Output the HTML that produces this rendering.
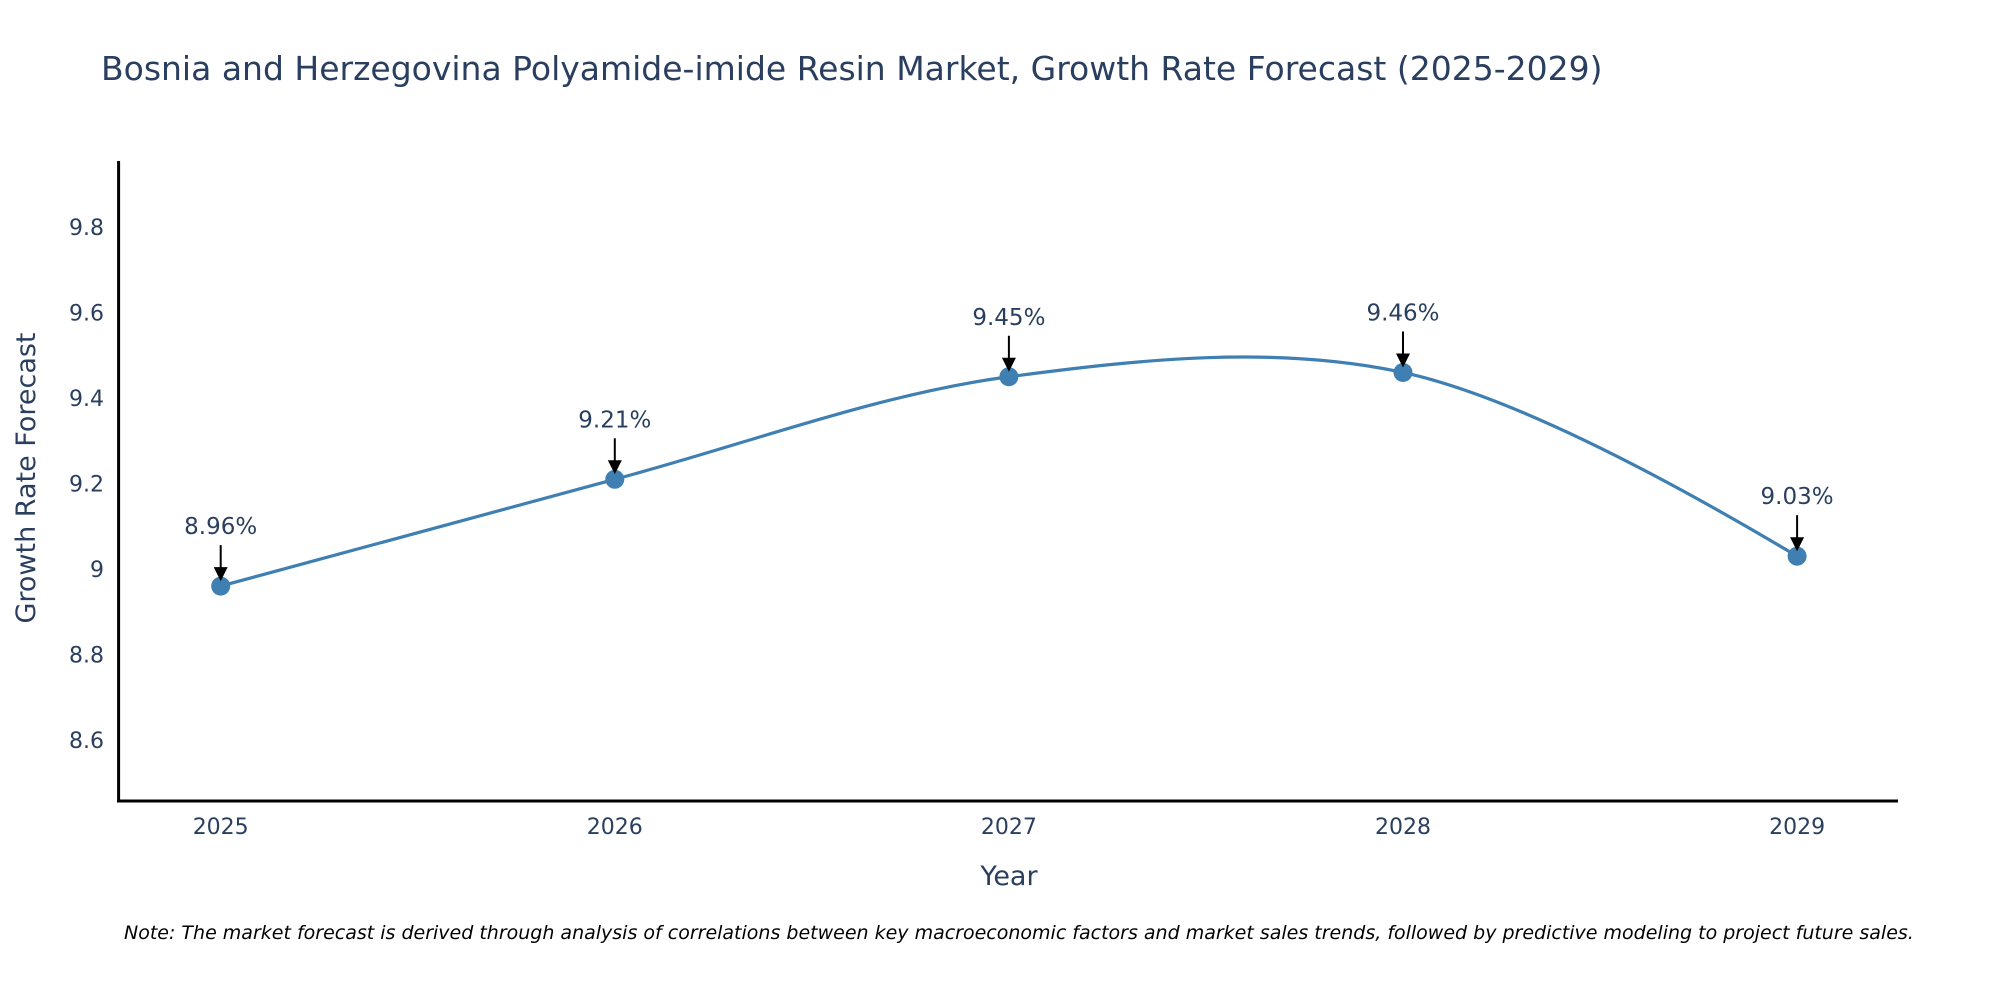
<!DOCTYPE html>
<html><head><meta charset="utf-8"><style>
body{margin:0;background:#fff;width:2000px;height:1000px;overflow:hidden;font-family:"DejaVu Sans","Liberation Sans",sans-serif}
</style></head><body>
<svg id="chart" width="2000" height="1000" xmlns="http://www.w3.org/2000/svg" font-family="DejaVu Sans, Liberation Sans, sans-serif">
<text x="101" y="80" font-size="33" fill="#2a3f5f">Bosnia and Herzegovina Polyamide-imide Resin Market, Growth Rate Forecast (2025-2029)</text>
<g id="yticks"></g>
<g id="xticks"></g>
<line x1="118.6" y1="161" x2="118.6" y2="802" stroke="#000" stroke-width="3"/>
<line x1="117" y1="801" x2="1898" y2="801" stroke="#000" stroke-width="3"/>
<g id="series"></g>
<g id="annos"></g>
<text x="1009" y="885" font-size="27" fill="#2a3f5f" text-anchor="middle">Year</text>
<text transform="translate(35,478) rotate(-90)" font-size="27" fill="#2a3f5f" text-anchor="middle">Growth Rate Forecast</text>
<text x="124" y="939" font-size="19" font-style="italic" fill="#000">Note: The market forecast is derived through analysis of correlations between key macroeconomic factors and market sales trends, followed by predictive modeling to project future sales.</text>
</svg>
<script>
const years=[2025,2026,2027,2028,2029];
const values=[8.96,9.21,9.45,9.46,9.03];
const valueLabels=["8.96%","9.21%","9.45%","9.46%","9.03%"];
const yTickValues=[8.6,8.8,9,9.2,9.4,9.6,9.8];
const yTickLabels=["8.6","8.8","9","9.2","9.4","9.6","9.8"];
const NS="http://www.w3.org/2000/svg";
const yMin=8.457,yMax=9.955,pTop=161,pBot=801;
function xs(v){return 220.7+(v-2025)*394.1;}
function ys(v){return pBot-(v-yMin)/(yMax-yMin)*(pBot-pTop);}
function mk(tag,attrs,parent){const e=document.createElementNS(NS,tag);for(const k in attrs)e.setAttribute(k,attrs[k]);parent.appendChild(e);return e;}
const yt=document.getElementById('yticks');
yTickValues.forEach((v,i)=>{const t=mk('text',{x:104,y:ys(v)+8,'font-size':22,fill:'#2a3f5f','text-anchor':'end'},yt);


t.textContent=yTickLabels[i];});
const xt=document.getElementById('xticks');
years.forEach(y=>{const t=mk('text',{x:xs(y),y:834,'font-size':22,fill:'#2a3f5f','text-anchor':'middle'},xt);


t.textContent=String(y);});
const pts=years.map((y,i)=>[xs(y),ys(values[i])]);
function tangent(p,t,n,s){const d1x=p[0]-t[0],d1y=p[1]-t[1],d2x=n[0]-t[0],d2y=n[1]-t[1];
const d1a=Math.pow(d1x*d1x+d1y*d1y,0.25),d2a=Math.pow(d2x*d2x+d2y*d2y,0.25);
const nx=(d2a*d2a*d1x-d1a*d1a*d2x)*s,ny=(d2a*d2a*d1y-d1a*d1a*d2y)*s;
const den1=3*d2a*(d1a+d2a),den2=3*d1a*(d1a+d2a);
return [[t[0]+nx/den1,t[1]+ny/den1],[t[0]-nx/den2,t[1]-ny/den2]];}
const tg=[];for(let i=1;i<pts.length-1;i++)tg.push(tangent(pts[i-1],pts[i],pts[i+1],1));
const f=p=>p[0].toFixed(2)+','+p[1].toFixed(2);
let d='M'+f(pts[0])+'Q'+f(tg[0][0])+' '+f(pts[1]);
for(let i=2;i<pts.length-1;i++)d+='C'+f(tg[i-2][1])+' '+f(tg[i-1][0])+' '+f(pts[i]);
d+='Q'+f(tg[pts.length-3][1])+' '+f(pts[pts.length-1]);
const sg=document.getElementById('series');
const line=mk('path',{d:d,fill:'none',stroke:'#3f7fb1','stroke-width':3.2},sg);


pts.forEach(p=>{const c=mk('circle',{cx:p[0],cy:p[1],r:9.5,fill:'#3f7fb1'},sg);

});
const an=document.getElementById('annos');
pts.forEach((p,i)=>{
const l=mk('line',{x1:p[0],y1:p[1]-41,x2:p[0],y2:p[1]-16,stroke:'#000','stroke-width':2},an);


const h=mk('path',{d:`M${p[0]-7},${p[1]-19}L${p[0]+7},${p[1]-19}L${p[0]},${p[1]-5}Z`,fill:'#000'},an);


const t=mk('text',{x:p[0],y:p[1]-52,'font-size':23,fill:'#2a3f5f','text-anchor':'middle'},an);


t.textContent=valueLabels[i];});
</script>
</body></html>
